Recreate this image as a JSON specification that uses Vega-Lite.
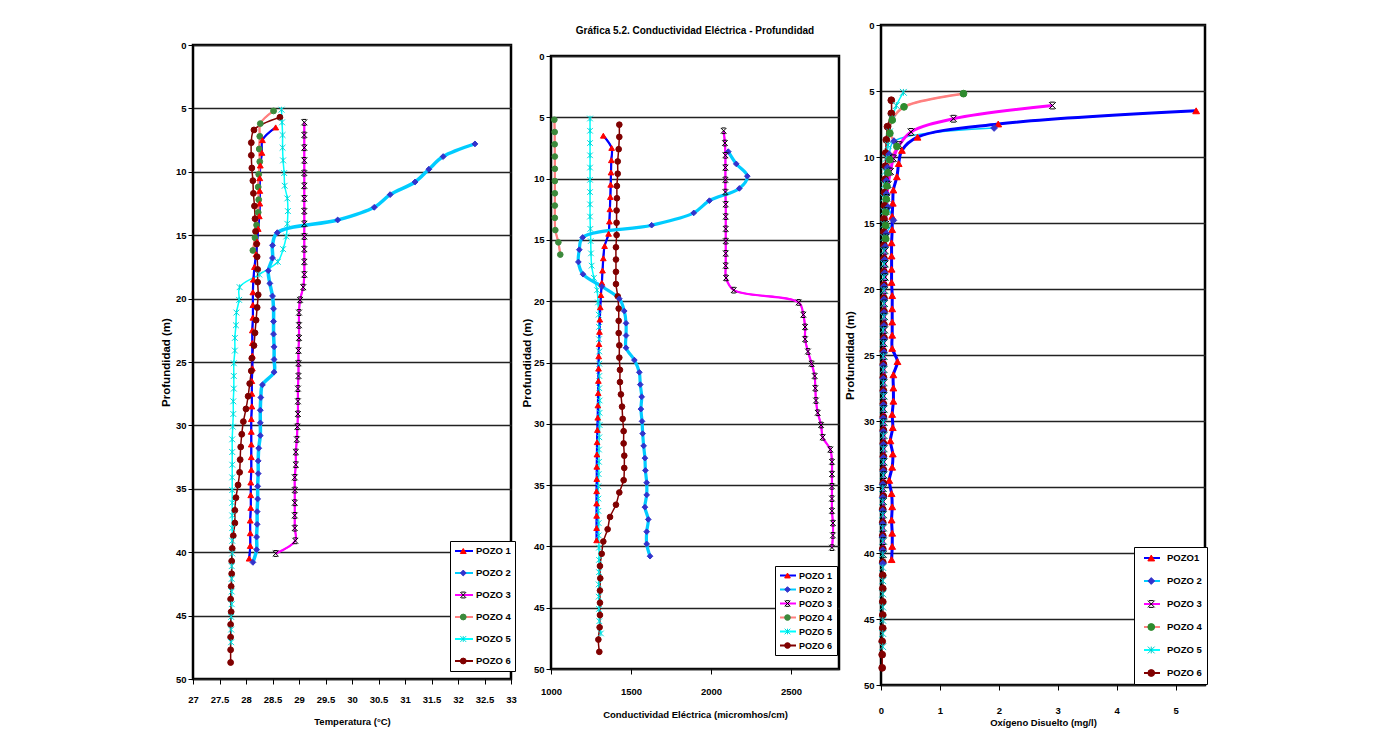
{
"$schema":"https://vega.github.io/schema/vega-lite/v6.json",
"background":"white",
"padding":{"left":159,"top":5,"right":5,"bottom":5},
"spacing":2,
"config":{
 "font":"Liberation Sans, Arial, sans-serif",
 "view":{"stroke":"#000","strokeWidth":2.5},
 "axis":{"labelFont":"Liberation Sans, Arial, sans-serif","labelFontSize":9.5,"labelFontWeight":"bold","labelColor":"#000","titleFont":"Liberation Sans, Arial, sans-serif","titleFontSize":9.5,"titleFontWeight":"bold","titleColor":"#000","tickColor":"#000","tickSize":5,"tickWidth":1,"domain":false,"gridColor":"#222","gridWidth":1.5,"gridOpacity":1,"labelFlush":false,"labelOverlap":false,"labelPadding":2,"format":"~g"},
 "legend":{"labelFont":"Liberation Sans, Arial, sans-serif","labelFontWeight":"bold","labelColor":"#000","cornerRadius":0},
 "title":{"anchor":"middle","frame":"group","color":"#000"}
},
"datasets":{
"temp":[
{"pozo":"POZO 1","prof":6.5,"valor":28.56},{"pozo":"POZO 1","prof":7.5,"valor":28.31},{"pozo":"POZO 1","prof":8.5,"valor":28.30},{"pozo":"POZO 1","prof":9.5,"valor":28.27},{"pozo":"POZO 1","prof":10.5,"valor":28.26},{"pozo":"POZO 1","prof":11.5,"valor":28.26},{"pozo":"POZO 1","prof":12.5,"valor":28.26},{"pozo":"POZO 1","prof":13.5,"valor":28.25},{"pozo":"POZO 1","prof":14.5,"valor":28.23},{"pozo":"POZO 1","prof":15.5,"valor":28.21},{"pozo":"POZO 1","prof":16.5,"valor":28.19},{"pozo":"POZO 1","prof":17.5,"valor":28.16},{"pozo":"POZO 1","prof":18.5,"valor":28.14},{"pozo":"POZO 1","prof":19.5,"valor":28.13},{"pozo":"POZO 1","prof":20.5,"valor":28.13},{"pozo":"POZO 1","prof":21.5,"valor":28.13},{"pozo":"POZO 1","prof":22.5,"valor":28.12},{"pozo":"POZO 1","prof":23.5,"valor":28.12},{"pozo":"POZO 1","prof":24.5,"valor":28.12},{"pozo":"POZO 1","prof":25.5,"valor":28.12},{"pozo":"POZO 1","prof":26.5,"valor":28.11},{"pozo":"POZO 1","prof":27.5,"valor":28.11},{"pozo":"POZO 1","prof":28.5,"valor":28.11},{"pozo":"POZO 1","prof":29.5,"valor":28.10},{"pozo":"POZO 1","prof":30.5,"valor":28.10},{"pozo":"POZO 1","prof":31.5,"valor":28.10},{"pozo":"POZO 1","prof":32.5,"valor":28.10},{"pozo":"POZO 1","prof":33.5,"valor":28.10},{"pozo":"POZO 1","prof":34.5,"valor":28.09},{"pozo":"POZO 1","prof":35.5,"valor":28.09},{"pozo":"POZO 1","prof":36.5,"valor":28.09},{"pozo":"POZO 1","prof":37.5,"valor":28.08},{"pozo":"POZO 1","prof":38.5,"valor":28.08},{"pozo":"POZO 1","prof":39.5,"valor":28.08},{"pozo":"POZO 1","prof":40.5,"valor":28.06},
{"pozo":"POZO 2","prof":7.8,"valor":32.32},{"pozo":"POZO 2","prof":8.8,"valor":31.72},{"pozo":"POZO 2","prof":9.8,"valor":31.45},{"pozo":"POZO 2","prof":10.8,"valor":31.19},{"pozo":"POZO 2","prof":11.8,"valor":30.72},{"pozo":"POZO 2","prof":12.8,"valor":30.42},{"pozo":"POZO 2","prof":13.8,"valor":29.73},{"pozo":"POZO 2","prof":14.8,"valor":28.59},{"pozo":"POZO 2","prof":15.8,"valor":28.50},{"pozo":"POZO 2","prof":16.8,"valor":28.50},{"pozo":"POZO 2","prof":17.8,"valor":28.42},{"pozo":"POZO 2","prof":18.8,"valor":28.45},{"pozo":"POZO 2","prof":19.8,"valor":28.50},{"pozo":"POZO 2","prof":20.8,"valor":28.52},{"pozo":"POZO 2","prof":21.8,"valor":28.52},{"pozo":"POZO 2","prof":22.8,"valor":28.52},{"pozo":"POZO 2","prof":23.8,"valor":28.53},{"pozo":"POZO 2","prof":24.8,"valor":28.53},{"pozo":"POZO 2","prof":25.8,"valor":28.53},{"pozo":"POZO 2","prof":26.8,"valor":28.31},{"pozo":"POZO 2","prof":27.8,"valor":28.28},{"pozo":"POZO 2","prof":28.8,"valor":28.27},{"pozo":"POZO 2","prof":29.8,"valor":28.27},{"pozo":"POZO 2","prof":30.8,"valor":28.27},{"pozo":"POZO 2","prof":31.8,"valor":28.24},{"pozo":"POZO 2","prof":32.8,"valor":28.23},{"pozo":"POZO 2","prof":33.8,"valor":28.23},{"pozo":"POZO 2","prof":34.8,"valor":28.22},{"pozo":"POZO 2","prof":35.8,"valor":28.22},{"pozo":"POZO 2","prof":36.8,"valor":28.21},{"pozo":"POZO 2","prof":37.8,"valor":28.21},{"pozo":"POZO 2","prof":38.8,"valor":28.20},{"pozo":"POZO 2","prof":39.8,"valor":28.20},{"pozo":"POZO 2","prof":40.8,"valor":28.13},
{"pozo":"POZO 3","prof":6.1,"valor":29.10},{"pozo":"POZO 3","prof":7.1,"valor":29.10},{"pozo":"POZO 3","prof":8.1,"valor":29.10},{"pozo":"POZO 3","prof":9.1,"valor":29.10},{"pozo":"POZO 3","prof":10.1,"valor":29.10},{"pozo":"POZO 3","prof":11.1,"valor":29.10},{"pozo":"POZO 3","prof":12.1,"valor":29.10},{"pozo":"POZO 3","prof":13.1,"valor":29.10},{"pozo":"POZO 3","prof":14.1,"valor":29.10},{"pozo":"POZO 3","prof":15.1,"valor":29.10},{"pozo":"POZO 3","prof":16.1,"valor":29.10},{"pozo":"POZO 3","prof":17.1,"valor":29.10},{"pozo":"POZO 3","prof":18.1,"valor":29.10},{"pozo":"POZO 3","prof":19.1,"valor":29.08},{"pozo":"POZO 3","prof":20.1,"valor":29.02},{"pozo":"POZO 3","prof":21.1,"valor":29.00},{"pozo":"POZO 3","prof":22.1,"valor":29.00},{"pozo":"POZO 3","prof":23.1,"valor":29.00},{"pozo":"POZO 3","prof":24.1,"valor":28.99},{"pozo":"POZO 3","prof":25.1,"valor":28.99},{"pozo":"POZO 3","prof":26.1,"valor":28.99},{"pozo":"POZO 3","prof":27.1,"valor":28.98},{"pozo":"POZO 3","prof":28.1,"valor":28.98},{"pozo":"POZO 3","prof":29.1,"valor":28.98},{"pozo":"POZO 3","prof":30.1,"valor":28.97},{"pozo":"POZO 3","prof":31.1,"valor":28.96},{"pozo":"POZO 3","prof":32.1,"valor":28.94},{"pozo":"POZO 3","prof":33.1,"valor":28.94},{"pozo":"POZO 3","prof":34.1,"valor":28.92},{"pozo":"POZO 3","prof":35.1,"valor":28.92},{"pozo":"POZO 3","prof":36.1,"valor":28.92},{"pozo":"POZO 3","prof":37.1,"valor":28.92},{"pozo":"POZO 3","prof":38.1,"valor":28.92},{"pozo":"POZO 3","prof":39.1,"valor":28.93},{"pozo":"POZO 3","prof":40.1,"valor":28.56},
{"pozo":"POZO 4","prof":5.2,"valor":28.52},{"pozo":"POZO 4","prof":6.2,"valor":28.27},{"pozo":"POZO 4","prof":7.2,"valor":28.26},{"pozo":"POZO 4","prof":8.2,"valor":28.25},{"pozo":"POZO 4","prof":9.2,"valor":28.26},{"pozo":"POZO 4","prof":10.2,"valor":28.24},{"pozo":"POZO 4","prof":11.2,"valor":28.23},{"pozo":"POZO 4","prof":12.2,"valor":28.24},{"pozo":"POZO 4","prof":13.2,"valor":28.23},{"pozo":"POZO 4","prof":14.2,"valor":28.20},{"pozo":"POZO 4","prof":15.2,"valor":28.17},{"pozo":"POZO 4","prof":16.2,"valor":28.13},
{"pozo":"POZO 5","prof":5.1,"valor":28.67},{"pozo":"POZO 5","prof":6.1,"valor":28.68},{"pozo":"POZO 5","prof":7.1,"valor":28.69},{"pozo":"POZO 5","prof":8.1,"valor":28.69},{"pozo":"POZO 5","prof":9.1,"valor":28.70},{"pozo":"POZO 5","prof":10.1,"valor":28.72},{"pozo":"POZO 5","prof":11.1,"valor":28.73},{"pozo":"POZO 5","prof":12.1,"valor":28.78},{"pozo":"POZO 5","prof":13.1,"valor":28.79},{"pozo":"POZO 5","prof":14.1,"valor":28.78},{"pozo":"POZO 5","prof":15.1,"valor":28.76},{"pozo":"POZO 5","prof":16.1,"valor":28.70},{"pozo":"POZO 5","prof":17.1,"valor":28.60},{"pozo":"POZO 5","prof":18.1,"valor":28.25},{"pozo":"POZO 5","prof":19.1,"valor":27.88},{"pozo":"POZO 5","prof":20.1,"valor":27.87},{"pozo":"POZO 5","prof":21.1,"valor":27.82},{"pozo":"POZO 5","prof":22.1,"valor":27.81},{"pozo":"POZO 5","prof":23.1,"valor":27.79},{"pozo":"POZO 5","prof":24.1,"valor":27.79},{"pozo":"POZO 5","prof":25.1,"valor":27.77},{"pozo":"POZO 5","prof":26.1,"valor":27.77},{"pozo":"POZO 5","prof":27.1,"valor":27.77},{"pozo":"POZO 5","prof":28.1,"valor":27.76},{"pozo":"POZO 5","prof":29.1,"valor":27.76},{"pozo":"POZO 5","prof":30.1,"valor":27.75},{"pozo":"POZO 5","prof":31.1,"valor":27.74},{"pozo":"POZO 5","prof":32.1,"valor":27.74},{"pozo":"POZO 5","prof":33.1,"valor":27.74},{"pozo":"POZO 5","prof":34.1,"valor":27.74},{"pozo":"POZO 5","prof":35.1,"valor":27.74},{"pozo":"POZO 5","prof":36.1,"valor":27.74},{"pozo":"POZO 5","prof":37.1,"valor":27.74},{"pozo":"POZO 5","prof":38.1,"valor":27.74},{"pozo":"POZO 5","prof":39.1,"valor":27.74},{"pozo":"POZO 5","prof":40.1,"valor":27.74},{"pozo":"POZO 5","prof":41.1,"valor":27.73},{"pozo":"POZO 5","prof":42.1,"valor":27.73},{"pozo":"POZO 5","prof":43.1,"valor":27.73},{"pozo":"POZO 5","prof":44.1,"valor":27.73},{"pozo":"POZO 5","prof":45.1,"valor":27.72},{"pozo":"POZO 5","prof":46.1,"valor":27.72},{"pozo":"POZO 5","prof":47.1,"valor":27.72},
{"pozo":"POZO 6","prof":5.7,"valor":28.64},{"pozo":"POZO 6","prof":6.7,"valor":28.15},{"pozo":"POZO 6","prof":7.7,"valor":28.10},{"pozo":"POZO 6","prof":8.7,"valor":28.10},{"pozo":"POZO 6","prof":9.7,"valor":28.11},{"pozo":"POZO 6","prof":10.7,"valor":28.13},{"pozo":"POZO 6","prof":11.7,"valor":28.14},{"pozo":"POZO 6","prof":12.7,"valor":28.16},{"pozo":"POZO 6","prof":13.7,"valor":28.17},{"pozo":"POZO 6","prof":14.7,"valor":28.18},{"pozo":"POZO 6","prof":15.7,"valor":28.20},{"pozo":"POZO 6","prof":16.7,"valor":28.21},{"pozo":"POZO 6","prof":17.7,"valor":28.22},{"pozo":"POZO 6","prof":18.7,"valor":28.22},{"pozo":"POZO 6","prof":19.7,"valor":28.23},{"pozo":"POZO 6","prof":20.7,"valor":28.21},{"pozo":"POZO 6","prof":21.7,"valor":28.19},{"pozo":"POZO 6","prof":22.7,"valor":28.17},{"pozo":"POZO 6","prof":23.7,"valor":28.15},{"pozo":"POZO 6","prof":24.7,"valor":28.11},{"pozo":"POZO 6","prof":25.7,"valor":28.10},{"pozo":"POZO 6","prof":26.7,"valor":28.07},{"pozo":"POZO 6","prof":27.7,"valor":28.04},{"pozo":"POZO 6","prof":28.7,"valor":28.00},{"pozo":"POZO 6","prof":29.7,"valor":27.95},{"pozo":"POZO 6","prof":30.7,"valor":27.92},{"pozo":"POZO 6","prof":31.7,"valor":27.90},{"pozo":"POZO 6","prof":32.7,"valor":27.89},{"pozo":"POZO 6","prof":33.7,"valor":27.88},{"pozo":"POZO 6","prof":34.7,"valor":27.85},{"pozo":"POZO 6","prof":35.7,"valor":27.81},{"pozo":"POZO 6","prof":36.7,"valor":27.79},{"pozo":"POZO 6","prof":37.7,"valor":27.79},{"pozo":"POZO 6","prof":38.7,"valor":27.76},{"pozo":"POZO 6","prof":39.7,"valor":27.74},{"pozo":"POZO 6","prof":40.7,"valor":27.73},{"pozo":"POZO 6","prof":41.7,"valor":27.73},{"pozo":"POZO 6","prof":42.7,"valor":27.72},{"pozo":"POZO 6","prof":43.7,"valor":27.71},{"pozo":"POZO 6","prof":44.7,"valor":27.72},{"pozo":"POZO 6","prof":45.7,"valor":27.71},{"pozo":"POZO 6","prof":46.7,"valor":27.71},{"pozo":"POZO 6","prof":47.7,"valor":27.71},{"pozo":"POZO 6","prof":48.7,"valor":27.71}
],
"cond":[
{"pozo":"POZO 1","prof":6.5,"valor":1327},{"pozo":"POZO 1","prof":7.5,"valor":1379},{"pozo":"POZO 1","prof":8.5,"valor":1377},{"pozo":"POZO 1","prof":9.5,"valor":1375},{"pozo":"POZO 1","prof":10.5,"valor":1373},{"pozo":"POZO 1","prof":11.5,"valor":1371},{"pozo":"POZO 1","prof":12.5,"valor":1368},{"pozo":"POZO 1","prof":13.5,"valor":1365},{"pozo":"POZO 1","prof":14.5,"valor":1360},{"pozo":"POZO 1","prof":15.5,"valor":1335},{"pozo":"POZO 1","prof":16.5,"valor":1327},{"pozo":"POZO 1","prof":17.5,"valor":1322},{"pozo":"POZO 1","prof":18.5,"valor":1318},{"pozo":"POZO 1","prof":19.5,"valor":1312},{"pozo":"POZO 1","prof":20.5,"valor":1308},{"pozo":"POZO 1","prof":21.5,"valor":1305},{"pozo":"POZO 1","prof":22.5,"valor":1303},{"pozo":"POZO 1","prof":23.5,"valor":1300},{"pozo":"POZO 1","prof":24.5,"valor":1298},{"pozo":"POZO 1","prof":25.5,"valor":1297},{"pozo":"POZO 1","prof":26.5,"valor":1296},{"pozo":"POZO 1","prof":27.5,"valor":1295},{"pozo":"POZO 1","prof":28.5,"valor":1293},{"pozo":"POZO 1","prof":29.5,"valor":1292},{"pozo":"POZO 1","prof":30.5,"valor":1290},{"pozo":"POZO 1","prof":31.5,"valor":1288},{"pozo":"POZO 1","prof":32.5,"valor":1287},{"pozo":"POZO 1","prof":33.5,"valor":1286},{"pozo":"POZO 1","prof":34.5,"valor":1286},{"pozo":"POZO 1","prof":35.5,"valor":1285},{"pozo":"POZO 1","prof":36.5,"valor":1285},{"pozo":"POZO 1","prof":37.5,"valor":1285},{"pozo":"POZO 1","prof":38.5,"valor":1285},{"pozo":"POZO 1","prof":39.5,"valor":1285},
{"pozo":"POZO 2","prof":7.8,"valor":2108},{"pozo":"POZO 2","prof":8.8,"valor":2158},{"pozo":"POZO 2","prof":9.8,"valor":2227},{"pozo":"POZO 2","prof":10.8,"valor":2177},{"pozo":"POZO 2","prof":11.8,"valor":1990},{"pozo":"POZO 2","prof":12.8,"valor":1892},{"pozo":"POZO 2","prof":13.8,"valor":1629},{"pozo":"POZO 2","prof":14.8,"valor":1198},{"pozo":"POZO 2","prof":15.8,"valor":1177},{"pozo":"POZO 2","prof":16.8,"valor":1171},{"pozo":"POZO 2","prof":17.8,"valor":1200},{"pozo":"POZO 2","prof":18.8,"valor":1318},{"pozo":"POZO 2","prof":19.8,"valor":1427},{"pozo":"POZO 2","prof":20.8,"valor":1458},{"pozo":"POZO 2","prof":21.8,"valor":1469},{"pozo":"POZO 2","prof":22.8,"valor":1469},{"pozo":"POZO 2","prof":23.8,"valor":1469},{"pozo":"POZO 2","prof":24.8,"valor":1521},{"pozo":"POZO 2","prof":25.8,"valor":1552},{"pozo":"POZO 2","prof":26.8,"valor":1558},{"pozo":"POZO 2","prof":27.8,"valor":1567},{"pozo":"POZO 2","prof":28.8,"valor":1562},{"pozo":"POZO 2","prof":29.8,"valor":1569},{"pozo":"POZO 2","prof":30.8,"valor":1573},{"pozo":"POZO 2","prof":31.8,"valor":1579},{"pozo":"POZO 2","prof":32.8,"valor":1587},{"pozo":"POZO 2","prof":33.8,"valor":1590},{"pozo":"POZO 2","prof":34.8,"valor":1598},{"pozo":"POZO 2","prof":35.8,"valor":1598},{"pozo":"POZO 2","prof":36.8,"valor":1587},{"pozo":"POZO 2","prof":37.8,"valor":1608},{"pozo":"POZO 2","prof":38.8,"valor":1598},{"pozo":"POZO 2","prof":39.8,"valor":1598},{"pozo":"POZO 2","prof":40.8,"valor":1619},
{"pozo":"POZO 3","prof":6.1,"valor":2079},{"pozo":"POZO 3","prof":7.1,"valor":2087},{"pozo":"POZO 3","prof":8.1,"valor":2090},{"pozo":"POZO 3","prof":9.1,"valor":2090},{"pozo":"POZO 3","prof":10.1,"valor":2090},{"pozo":"POZO 3","prof":11.1,"valor":2090},{"pozo":"POZO 3","prof":12.1,"valor":2092},{"pozo":"POZO 3","prof":13.1,"valor":2092},{"pozo":"POZO 3","prof":14.1,"valor":2092},{"pozo":"POZO 3","prof":15.1,"valor":2092},{"pozo":"POZO 3","prof":16.1,"valor":2092},{"pozo":"POZO 3","prof":17.1,"valor":2092},{"pozo":"POZO 3","prof":18.1,"valor":2094},{"pozo":"POZO 3","prof":19.1,"valor":2142},{"pozo":"POZO 3","prof":20.1,"valor":2548},{"pozo":"POZO 3","prof":21.1,"valor":2577},{"pozo":"POZO 3","prof":22.1,"valor":2588},{"pozo":"POZO 3","prof":23.1,"valor":2588},{"pozo":"POZO 3","prof":24.1,"valor":2606},{"pozo":"POZO 3","prof":25.1,"valor":2629},{"pozo":"POZO 3","prof":26.1,"valor":2648},{"pozo":"POZO 3","prof":27.1,"valor":2652},{"pozo":"POZO 3","prof":28.1,"valor":2656},{"pozo":"POZO 3","prof":29.1,"valor":2667},{"pozo":"POZO 3","prof":30.1,"valor":2688},{"pozo":"POZO 3","prof":31.1,"valor":2698},{"pozo":"POZO 3","prof":32.1,"valor":2746},{"pozo":"POZO 3","prof":33.1,"valor":2756},{"pozo":"POZO 3","prof":34.1,"valor":2756},{"pozo":"POZO 3","prof":35.1,"valor":2756},{"pozo":"POZO 3","prof":36.1,"valor":2756},{"pozo":"POZO 3","prof":37.1,"valor":2756},{"pozo":"POZO 3","prof":38.1,"valor":2762},{"pozo":"POZO 3","prof":39.1,"valor":2762},{"pozo":"POZO 3","prof":40.1,"valor":2756},
{"pozo":"POZO 4","prof":5.2,"valor":1021},{"pozo":"POZO 4","prof":6.2,"valor":1023},{"pozo":"POZO 4","prof":7.2,"valor":1023},{"pozo":"POZO 4","prof":8.2,"valor":1024},{"pozo":"POZO 4","prof":9.2,"valor":1024},{"pozo":"POZO 4","prof":10.2,"valor":1024},{"pozo":"POZO 4","prof":11.2,"valor":1024},{"pozo":"POZO 4","prof":12.2,"valor":1024},{"pozo":"POZO 4","prof":13.2,"valor":1024},{"pozo":"POZO 4","prof":14.2,"valor":1027},{"pozo":"POZO 4","prof":15.2,"valor":1046},{"pozo":"POZO 4","prof":16.2,"valor":1058},
{"pozo":"POZO 5","prof":5.1,"valor":1244},{"pozo":"POZO 5","prof":6.1,"valor":1244},{"pozo":"POZO 5","prof":7.1,"valor":1244},{"pozo":"POZO 5","prof":8.1,"valor":1244},{"pozo":"POZO 5","prof":9.1,"valor":1244},{"pozo":"POZO 5","prof":10.1,"valor":1244},{"pozo":"POZO 5","prof":11.1,"valor":1244},{"pozo":"POZO 5","prof":12.1,"valor":1244},{"pozo":"POZO 5","prof":13.1,"valor":1244},{"pozo":"POZO 5","prof":14.1,"valor":1246},{"pozo":"POZO 5","prof":15.1,"valor":1248},{"pozo":"POZO 5","prof":16.1,"valor":1250},{"pozo":"POZO 5","prof":17.1,"valor":1254},{"pozo":"POZO 5","prof":18.1,"valor":1268},{"pozo":"POZO 5","prof":19.1,"valor":1288},{"pozo":"POZO 5","prof":20.1,"valor":1294},{"pozo":"POZO 5","prof":21.1,"valor":1298},{"pozo":"POZO 5","prof":22.1,"valor":1300},{"pozo":"POZO 5","prof":23.1,"valor":1300},{"pozo":"POZO 5","prof":24.1,"valor":1302},{"pozo":"POZO 5","prof":25.1,"valor":1302},{"pozo":"POZO 5","prof":26.1,"valor":1302},{"pozo":"POZO 5","prof":27.1,"valor":1302},{"pozo":"POZO 5","prof":28.1,"valor":1304},{"pozo":"POZO 5","prof":29.1,"valor":1304},{"pozo":"POZO 5","prof":30.1,"valor":1304},{"pozo":"POZO 5","prof":31.1,"valor":1302},{"pozo":"POZO 5","prof":32.1,"valor":1300},{"pozo":"POZO 5","prof":33.1,"valor":1300},{"pozo":"POZO 5","prof":34.1,"valor":1298},{"pozo":"POZO 5","prof":35.1,"valor":1296},{"pozo":"POZO 5","prof":36.1,"valor":1296},{"pozo":"POZO 5","prof":37.1,"valor":1296},{"pozo":"POZO 5","prof":38.1,"valor":1298},{"pozo":"POZO 5","prof":39.1,"valor":1298},{"pozo":"POZO 5","prof":40.1,"valor":1300},{"pozo":"POZO 5","prof":41.1,"valor":1300},{"pozo":"POZO 5","prof":42.1,"valor":1300},{"pozo":"POZO 5","prof":43.1,"valor":1298},{"pozo":"POZO 5","prof":44.1,"valor":1298},{"pozo":"POZO 5","prof":45.1,"valor":1300},{"pozo":"POZO 5","prof":46.1,"valor":1302},{"pozo":"POZO 5","prof":47.1,"valor":1312},
{"pozo":"POZO 6","prof":5.6,"valor":1427},{"pozo":"POZO 6","prof":6.6,"valor":1427},{"pozo":"POZO 6","prof":7.6,"valor":1423},{"pozo":"POZO 6","prof":8.6,"valor":1417},{"pozo":"POZO 6","prof":9.6,"valor":1417},{"pozo":"POZO 6","prof":10.6,"valor":1412},{"pozo":"POZO 6","prof":11.6,"valor":1412},{"pozo":"POZO 6","prof":12.6,"valor":1410},{"pozo":"POZO 6","prof":13.6,"valor":1410},{"pozo":"POZO 6","prof":14.6,"valor":1410},{"pozo":"POZO 6","prof":15.6,"valor":1406},{"pozo":"POZO 6","prof":16.6,"valor":1406},{"pozo":"POZO 6","prof":17.6,"valor":1406},{"pozo":"POZO 6","prof":18.6,"valor":1406},{"pozo":"POZO 6","prof":19.6,"valor":1417},{"pozo":"POZO 6","prof":20.6,"valor":1423},{"pozo":"POZO 6","prof":21.6,"valor":1423},{"pozo":"POZO 6","prof":22.6,"valor":1423},{"pozo":"POZO 6","prof":23.6,"valor":1427},{"pozo":"POZO 6","prof":24.6,"valor":1427},{"pozo":"POZO 6","prof":25.6,"valor":1431},{"pozo":"POZO 6","prof":26.6,"valor":1431},{"pozo":"POZO 6","prof":27.6,"valor":1437},{"pozo":"POZO 6","prof":28.6,"valor":1444},{"pozo":"POZO 6","prof":29.6,"valor":1448},{"pozo":"POZO 6","prof":30.6,"valor":1454},{"pozo":"POZO 6","prof":31.6,"valor":1454},{"pozo":"POZO 6","prof":32.6,"valor":1458},{"pozo":"POZO 6","prof":33.6,"valor":1458},{"pozo":"POZO 6","prof":34.6,"valor":1454},{"pozo":"POZO 6","prof":35.6,"valor":1427},{"pozo":"POZO 6","prof":36.6,"valor":1406},{"pozo":"POZO 6","prof":37.6,"valor":1369},{"pozo":"POZO 6","prof":38.6,"valor":1354},{"pozo":"POZO 6","prof":39.6,"valor":1327},{"pozo":"POZO 6","prof":40.6,"valor":1317},{"pozo":"POZO 6","prof":41.6,"valor":1306},{"pozo":"POZO 6","prof":42.6,"valor":1308},{"pozo":"POZO 6","prof":43.6,"valor":1306},{"pozo":"POZO 6","prof":44.6,"valor":1306},{"pozo":"POZO 6","prof":45.6,"valor":1306},{"pozo":"POZO 6","prof":46.6,"valor":1304},{"pozo":"POZO 6","prof":47.6,"valor":1296},{"pozo":"POZO 6","prof":48.6,"valor":1302}
],
"oxy":[
{"pozo":"POZO 1","prof":6.5,"valor":5.35},{"pozo":"POZO 1","prof":7.5,"valor":1.99},{"pozo":"POZO 1","prof":8.5,"valor":0.62},{"pozo":"POZO 1","prof":9.5,"valor":0.355},{"pozo":"POZO 1","prof":10.5,"valor":0.30},{"pozo":"POZO 1","prof":11.5,"valor":0.27},{"pozo":"POZO 1","prof":12.5,"valor":0.21},{"pozo":"POZO 1","prof":13.5,"valor":0.20},{"pozo":"POZO 1","prof":14.5,"valor":0.19},{"pozo":"POZO 1","prof":15.5,"valor":0.19},{"pozo":"POZO 1","prof":16.5,"valor":0.18},{"pozo":"POZO 1","prof":17.5,"valor":0.18},{"pozo":"POZO 1","prof":18.5,"valor":0.18},{"pozo":"POZO 1","prof":19.5,"valor":0.18},{"pozo":"POZO 1","prof":20.5,"valor":0.19},{"pozo":"POZO 1","prof":21.5,"valor":0.19},{"pozo":"POZO 1","prof":22.5,"valor":0.19},{"pozo":"POZO 1","prof":23.5,"valor":0.19},{"pozo":"POZO 1","prof":24.5,"valor":0.19},{"pozo":"POZO 1","prof":25.5,"valor":0.28},{"pozo":"POZO 1","prof":26.5,"valor":0.21},{"pozo":"POZO 1","prof":27.5,"valor":0.21},{"pozo":"POZO 1","prof":28.5,"valor":0.21},{"pozo":"POZO 1","prof":29.5,"valor":0.19},{"pozo":"POZO 1","prof":30.5,"valor":0.20},{"pozo":"POZO 1","prof":31.5,"valor":0.16},{"pozo":"POZO 1","prof":32.5,"valor":0.20},{"pozo":"POZO 1","prof":33.5,"valor":0.19},{"pozo":"POZO 1","prof":34.5,"valor":0.14},{"pozo":"POZO 1","prof":35.5,"valor":0.18},{"pozo":"POZO 1","prof":36.5,"valor":0.19},{"pozo":"POZO 1","prof":37.5,"valor":0.18},{"pozo":"POZO 1","prof":38.5,"valor":0.19},{"pozo":"POZO 1","prof":39.5,"valor":0.19},{"pozo":"POZO 1","prof":40.5,"valor":0.18},
{"pozo":"POZO 2","prof":7.8,"valor":1.92},{"pozo":"POZO 2","prof":8.8,"valor":0.22},{"pozo":"POZO 2","prof":9.8,"valor":0.14},{"pozo":"POZO 2","prof":10.8,"valor":0.11},{"pozo":"POZO 2","prof":11.8,"valor":0.09},{"pozo":"POZO 2","prof":12.8,"valor":0.09},{"pozo":"POZO 2","prof":13.8,"valor":0.12},{"pozo":"POZO 2","prof":14.8,"valor":0.21},{"pozo":"POZO 2","prof":15.8,"valor":0.09},{"pozo":"POZO 2","prof":16.8,"valor":0.07},{"pozo":"POZO 2","prof":17.8,"valor":0.06},{"pozo":"POZO 2","prof":18.8,"valor":0.06},{"pozo":"POZO 2","prof":19.8,"valor":0.05},{"pozo":"POZO 2","prof":20.8,"valor":0.05},{"pozo":"POZO 2","prof":21.8,"valor":0.05},{"pozo":"POZO 2","prof":22.8,"valor":0.05},{"pozo":"POZO 2","prof":23.8,"valor":0.05},{"pozo":"POZO 2","prof":24.8,"valor":0.05},{"pozo":"POZO 2","prof":25.8,"valor":0.04},{"pozo":"POZO 2","prof":26.8,"valor":0.04},{"pozo":"POZO 2","prof":27.8,"valor":0.04},{"pozo":"POZO 2","prof":28.8,"valor":0.04},{"pozo":"POZO 2","prof":29.8,"valor":0.04},{"pozo":"POZO 2","prof":30.8,"valor":0.04},{"pozo":"POZO 2","prof":31.8,"valor":0.04},{"pozo":"POZO 2","prof":32.8,"valor":0.04},{"pozo":"POZO 2","prof":33.8,"valor":0.04},{"pozo":"POZO 2","prof":34.8,"valor":0.03},{"pozo":"POZO 2","prof":35.8,"valor":0.03},{"pozo":"POZO 2","prof":36.8,"valor":0.03},{"pozo":"POZO 2","prof":37.8,"valor":0.03},{"pozo":"POZO 2","prof":38.8,"valor":0.03},{"pozo":"POZO 2","prof":39.8,"valor":0.03},{"pozo":"POZO 2","prof":40.8,"valor":0.03},
{"pozo":"POZO 3","prof":6.1,"valor":2.91},{"pozo":"POZO 3","prof":7.1,"valor":1.23},{"pozo":"POZO 3","prof":8.1,"valor":0.51},{"pozo":"POZO 3","prof":9.1,"valor":0.31},{"pozo":"POZO 3","prof":10.1,"valor":0.21},{"pozo":"POZO 3","prof":11.1,"valor":0.16},{"pozo":"POZO 3","prof":12.1,"valor":0.12},{"pozo":"POZO 3","prof":13.1,"valor":0.10},{"pozo":"POZO 3","prof":14.1,"valor":0.09},{"pozo":"POZO 3","prof":15.1,"valor":0.08},{"pozo":"POZO 3","prof":16.1,"valor":0.08},{"pozo":"POZO 3","prof":17.1,"valor":0.07},{"pozo":"POZO 3","prof":18.1,"valor":0.07},{"pozo":"POZO 3","prof":19.1,"valor":0.07},{"pozo":"POZO 3","prof":20.1,"valor":0.06},{"pozo":"POZO 3","prof":21.1,"valor":0.06},{"pozo":"POZO 3","prof":22.1,"valor":0.06},{"pozo":"POZO 3","prof":23.1,"valor":0.06},{"pozo":"POZO 3","prof":24.1,"valor":0.05},{"pozo":"POZO 3","prof":25.1,"valor":0.05},{"pozo":"POZO 3","prof":26.1,"valor":0.05},{"pozo":"POZO 3","prof":27.1,"valor":0.05},{"pozo":"POZO 3","prof":28.1,"valor":0.05},{"pozo":"POZO 3","prof":29.1,"valor":0.05},{"pozo":"POZO 3","prof":30.1,"valor":0.05},{"pozo":"POZO 3","prof":31.1,"valor":0.05},{"pozo":"POZO 3","prof":32.1,"valor":0.05},{"pozo":"POZO 3","prof":33.1,"valor":0.05},{"pozo":"POZO 3","prof":34.1,"valor":0.05},{"pozo":"POZO 3","prof":35.1,"valor":0.04},{"pozo":"POZO 3","prof":36.1,"valor":0.04},{"pozo":"POZO 3","prof":37.1,"valor":0.04},{"pozo":"POZO 3","prof":38.1,"valor":0.04},{"pozo":"POZO 3","prof":39.1,"valor":0.04},{"pozo":"POZO 3","prof":40.1,"valor":0.04},
{"pozo":"POZO 4","prof":5.2,"valor":1.40},{"pozo":"POZO 4","prof":6.2,"valor":0.39},{"pozo":"POZO 4","prof":7.2,"valor":0.19},{"pozo":"POZO 4","prof":8.2,"valor":0.15},{"pozo":"POZO 4","prof":9.2,"valor":0.27},{"pozo":"POZO 4","prof":10.2,"valor":0.15},{"pozo":"POZO 4","prof":11.2,"valor":0.12},{"pozo":"POZO 4","prof":12.2,"valor":0.10},{"pozo":"POZO 4","prof":13.2,"valor":0.09},{"pozo":"POZO 4","prof":14.2,"valor":0.08},{"pozo":"POZO 4","prof":15.2,"valor":0.08},{"pozo":"POZO 4","prof":16.2,"valor":0.08},
{"pozo":"POZO 5","prof":5.1,"valor":0.38},{"pozo":"POZO 5","prof":6.1,"valor":0.26},{"pozo":"POZO 5","prof":7.1,"valor":0.19},{"pozo":"POZO 5","prof":8.1,"valor":0.145},{"pozo":"POZO 5","prof":9.1,"valor":0.12},{"pozo":"POZO 5","prof":10.1,"valor":0.09},{"pozo":"POZO 5","prof":11.1,"valor":0.07},{"pozo":"POZO 5","prof":12.1,"valor":0.06},{"pozo":"POZO 5","prof":13.1,"valor":0.05},{"pozo":"POZO 5","prof":14.1,"valor":0.05},{"pozo":"POZO 5","prof":15.1,"valor":0.05},{"pozo":"POZO 5","prof":16.1,"valor":0.05},{"pozo":"POZO 5","prof":17.1,"valor":0.05},{"pozo":"POZO 5","prof":18.1,"valor":0.05},{"pozo":"POZO 5","prof":19.1,"valor":0.05},{"pozo":"POZO 5","prof":20.1,"valor":0.05},{"pozo":"POZO 5","prof":21.1,"valor":0.05},{"pozo":"POZO 5","prof":22.1,"valor":0.05},{"pozo":"POZO 5","prof":23.1,"valor":0.04},{"pozo":"POZO 5","prof":24.1,"valor":0.04},{"pozo":"POZO 5","prof":25.1,"valor":0.04},{"pozo":"POZO 5","prof":26.1,"valor":0.04},{"pozo":"POZO 5","prof":27.1,"valor":0.04},{"pozo":"POZO 5","prof":28.1,"valor":0.04},{"pozo":"POZO 5","prof":29.1,"valor":0.04},{"pozo":"POZO 5","prof":30.1,"valor":0.04},{"pozo":"POZO 5","prof":31.1,"valor":0.04},{"pozo":"POZO 5","prof":32.1,"valor":0.04},{"pozo":"POZO 5","prof":33.1,"valor":0.04},{"pozo":"POZO 5","prof":34.1,"valor":0.04},{"pozo":"POZO 5","prof":35.1,"valor":0.03},{"pozo":"POZO 5","prof":36.1,"valor":0.03},{"pozo":"POZO 5","prof":37.1,"valor":0.03},{"pozo":"POZO 5","prof":38.1,"valor":0.03},{"pozo":"POZO 5","prof":39.1,"valor":0.03},{"pozo":"POZO 5","prof":40.1,"valor":0.03},{"pozo":"POZO 5","prof":41.1,"valor":0.03},{"pozo":"POZO 5","prof":42.1,"valor":0.03},{"pozo":"POZO 5","prof":43.1,"valor":0.03},{"pozo":"POZO 5","prof":44.1,"valor":0.03},{"pozo":"POZO 5","prof":45.1,"valor":0.03},{"pozo":"POZO 5","prof":46.1,"valor":0.03},{"pozo":"POZO 5","prof":47.1,"valor":0.03},
{"pozo":"POZO 6","prof":5.7,"valor":0.175},{"pozo":"POZO 6","prof":6.7,"valor":0.175},{"pozo":"POZO 6","prof":7.7,"valor":0.11},{"pozo":"POZO 6","prof":8.7,"valor":0.09},{"pozo":"POZO 6","prof":9.7,"valor":0.08},{"pozo":"POZO 6","prof":10.7,"valor":0.075},{"pozo":"POZO 6","prof":11.7,"valor":0.07},{"pozo":"POZO 6","prof":12.7,"valor":0.06},{"pozo":"POZO 6","prof":13.7,"valor":0.06},{"pozo":"POZO 6","prof":14.7,"valor":0.05},{"pozo":"POZO 6","prof":15.7,"valor":0.05},{"pozo":"POZO 6","prof":16.7,"valor":0.05},{"pozo":"POZO 6","prof":17.7,"valor":0.05},{"pozo":"POZO 6","prof":18.7,"valor":0.05},{"pozo":"POZO 6","prof":19.7,"valor":0.05},{"pozo":"POZO 6","prof":20.7,"valor":0.05},{"pozo":"POZO 6","prof":21.7,"valor":0.05},{"pozo":"POZO 6","prof":22.7,"valor":0.05},{"pozo":"POZO 6","prof":23.7,"valor":0.05},{"pozo":"POZO 6","prof":24.7,"valor":0.04},{"pozo":"POZO 6","prof":25.7,"valor":0.04},{"pozo":"POZO 6","prof":26.7,"valor":0.04},{"pozo":"POZO 6","prof":27.7,"valor":0.04},{"pozo":"POZO 6","prof":28.7,"valor":0.04},{"pozo":"POZO 6","prof":29.7,"valor":0.04},{"pozo":"POZO 6","prof":30.7,"valor":0.04},{"pozo":"POZO 6","prof":31.7,"valor":0.04},{"pozo":"POZO 6","prof":32.7,"valor":0.04},{"pozo":"POZO 6","prof":33.7,"valor":0.04},{"pozo":"POZO 6","prof":34.7,"valor":0.04},{"pozo":"POZO 6","prof":35.7,"valor":0.04},{"pozo":"POZO 6","prof":36.7,"valor":0.03},{"pozo":"POZO 6","prof":37.7,"valor":0.03},{"pozo":"POZO 6","prof":38.7,"valor":0.03},{"pozo":"POZO 6","prof":39.7,"valor":0.03},{"pozo":"POZO 6","prof":40.7,"valor":0.03},{"pozo":"POZO 6","prof":41.7,"valor":0.03},{"pozo":"POZO 6","prof":42.7,"valor":0.03},{"pozo":"POZO 6","prof":43.7,"valor":0.03},{"pozo":"POZO 6","prof":44.7,"valor":0.03},{"pozo":"POZO 6","prof":45.7,"valor":0.03},{"pozo":"POZO 6","prof":46.7,"valor":0.02},{"pozo":"POZO 6","prof":47.7,"valor":0.02},{"pozo":"POZO 6","prof":48.7,"valor":0.02}
]
},
"hconcat":[
{"spacing":0,"vconcat":[
{"width":10,"height":33,"data":{"values":[]},"mark":"point","view":{"stroke":null,"fill":"white"}},
{
 "width":318,"height":634,
 "data":{"name":"temp"},
 "encoding":{
  "y":{"field":"prof","type":"quantitative","scale":{"domain":[0,50],"reverse":true,"nice":false,"zero":false},"axis":{"values":[0,5,10,15,20,25,30,35,40,45,50],"grid":true,"title":"Profundidad (m)","titleFontSize":11.5,"titlePadding":4}},
  "x":{"field":"valor","type":"quantitative","scale":{"domain":[27,33],"nice":false,"zero":false},"axis":{"values":[27,27.5,28,28.5,29,29.5,30,30.5,31,31.5,32,32.5,33],"grid":false,"title":"Temperatura (°C)","labelPadding":10,"titlePadding":13}},
  "order":{"field":"prof","type":"quantitative"}
 },
 "layer":[
  {"mark":{"type":"line","strokeWidth":1.5,"interpolate":"catmull-rom"},"encoding":{"color":{"field":"pozo","type":"nominal","scale":{"range":["#0000FF","#00CCFF","#FF00FF","#FF8080","#00FFFF","#800000"]},"legend":{"orient":"none","legendX":257,"legendY":496,"title":null,"symbolType":"stroke","symbolSize":324,"symbolStrokeWidth":2,"clipHeight":12,"rowPadding":10,"padding":4,"labelOffset":2,"labelFontSize":9.5,"strokeColor":"#000","fillColor":"#fff"}}}},
  {"transform":[{"filter":{"field":"pozo","oneOf":["POZO 1","POZO 3","POZO 4"]}}],"mark":{"type":"line","strokeWidth":2.2,"interpolate":"catmull-rom"},"encoding":{"color":{"field":"pozo","type":"nominal"}}},
  {"transform":[{"filter":{"field":"pozo","oneOf":["POZO 2"]}}],"mark":{"type":"line","strokeWidth":3.5,"interpolate":"catmull-rom"},"encoding":{"color":{"field":"pozo","type":"nominal"}}},
  {"mark":{"type":"point","size":34,"strokeWidth":1,"opacity":1},"encoding":{
   "fill":{"field":"pozo","type":"nominal","scale":{"domain":["POZO 1","POZO 2","POZO 3","POZO 4","POZO 5","POZO 6"],"range":["#FF0000","#3333CC","transparent","#3C8A3C","transparent","#800000"]},"legend":{"orient":"none","legendX":257,"legendY":496,"title":null,"symbolSize":34,"symbolStrokeWidth":1,"clipHeight":12,"rowPadding":10,"padding":4,"labelExpr":"''","symbolOffset":4.5,"labelFontSize":9.5}},
   "stroke":{"field":"pozo","type":"nominal","scale":{"domain":["POZO 1","POZO 2","POZO 3","POZO 4","POZO 5","POZO 6"],"range":["#FF0000","#3333CC","#000000","#3C8A3C","#00DDDD","#800000"]},"legend":{"orient":"none","legendX":257,"legendY":496,"title":null,"symbolSize":34,"symbolStrokeWidth":1,"clipHeight":12,"rowPadding":10,"padding":4,"labelExpr":"''","symbolOffset":4.5,"labelFontSize":9.5}},
   "shape":{"field":"pozo","type":"nominal","scale":{"domain":["POZO 1","POZO 2","POZO 3","POZO 4","POZO 5","POZO 6"],"range":["triangle-up","diamond","M-1,-1L1,1M1,-1L-1,1M-0.7,-1H0.7M-0.7,1H0.7","circle","M-1,-1L1,1M1,-1L-1,1M0,-1V1","circle"]},"legend":{"orient":"none","legendX":257,"legendY":496,"title":null,"symbolSize":34,"symbolStrokeWidth":1,"clipHeight":12,"rowPadding":10,"padding":4,"labelExpr":"''","symbolOffset":4.5,"labelFontSize":9.5}}
  }}
 ]
}],
"resolve":{"scale":{"color":"independent","fill":"independent","stroke":"independent","shape":"independent","x":"independent","y":"independent"},"legend":{"color":"independent","fill":"independent","stroke":"independent","shape":"independent"}}
},
{"spacing":0,"vconcat":[
{"width":10,"height":19,"data":{"values":[]},"mark":"point","view":{"stroke":null,"fill":"white"}},
{
 "width":288,"height":613,
 "title":{"text":"Gráfica 5.2.  Conductividad Eléctrica - Profundidad","fontSize":10,"fontWeight":"bold","offset":15},
 "data":{"name":"cond"},
 "encoding":{
  "y":{"field":"prof","type":"quantitative","scale":{"domain":[0,50],"reverse":true,"nice":false,"zero":false},"axis":{"values":[0,5,10,15,20,25,30,35,40,45,50],"grid":true,"title":"Profundidad (m)","titleFontSize":11.5,"titlePadding":1}},
  "x":{"field":"valor","type":"quantitative","scale":{"domain":[1000,2800],"nice":false,"zero":false},"axis":{"values":[1000,1500,2000,2500],"format":"d","grid":false,"title":"Conductividad Eléctrica (micromhos/cm)","labelPadding":12,"titlePadding":14}},
  "order":{"field":"prof","type":"quantitative"}
 },
 "layer":[
  {"mark":{"type":"line","strokeWidth":1.5,"interpolate":"catmull-rom"},"encoding":{"color":{"field":"pozo","type":"nominal","scale":{"range":["#0000FF","#00CCFF","#FF00FF","#FF8080","#00FFFF","#800000"]},"legend":{"orient":"none","legendX":224,"legendY":510,"title":null,"symbolType":"stroke","symbolSize":256,"symbolStrokeWidth":2,"clipHeight":11,"rowPadding":3,"padding":4,"labelOffset":2,"labelFontSize":9,"strokeColor":"#000","fillColor":"#fff"}}}},
  {"transform":[{"filter":{"field":"pozo","oneOf":["POZO 1","POZO 3","POZO 4"]}}],"mark":{"type":"line","strokeWidth":2.2,"interpolate":"catmull-rom"},"encoding":{"color":{"field":"pozo","type":"nominal"}}},
  {"transform":[{"filter":{"field":"pozo","oneOf":["POZO 2"]}}],"mark":{"type":"line","strokeWidth":3.2,"interpolate":"catmull-rom"},"encoding":{"color":{"field":"pozo","type":"nominal"}}},
  {"mark":{"type":"point","size":32,"strokeWidth":1,"opacity":1},"encoding":{
   "fill":{"field":"pozo","type":"nominal","scale":{"domain":["POZO 1","POZO 2","POZO 3","POZO 4","POZO 5","POZO 6"],"range":["#FF0000","#3333CC","transparent","#3C8A3C","transparent","#800000"]},"legend":{"orient":"none","legendX":224,"legendY":510,"title":null,"symbolSize":32,"symbolStrokeWidth":1,"clipHeight":11,"rowPadding":3,"padding":4,"labelExpr":"''","symbolOffset":4,"labelFontSize":9}},
   "stroke":{"field":"pozo","type":"nominal","scale":{"domain":["POZO 1","POZO 2","POZO 3","POZO 4","POZO 5","POZO 6"],"range":["#FF0000","#3333CC","#000000","#3C8A3C","#00DDDD","#800000"]},"legend":{"orient":"none","legendX":224,"legendY":510,"title":null,"symbolSize":32,"symbolStrokeWidth":1,"clipHeight":11,"rowPadding":3,"padding":4,"labelExpr":"''","symbolOffset":4,"labelFontSize":9}},
   "shape":{"field":"pozo","type":"nominal","scale":{"domain":["POZO 1","POZO 2","POZO 3","POZO 4","POZO 5","POZO 6"],"range":["triangle-up","diamond","M-1,-1L1,1M1,-1L-1,1M-0.7,-1H0.7M-0.7,1H0.7","circle","M-1,-1L1,1M1,-1L-1,1M0,-1V1","circle"]},"legend":{"orient":"none","legendX":224,"legendY":510,"title":null,"symbolSize":32,"symbolStrokeWidth":1,"clipHeight":11,"rowPadding":3,"padding":4,"labelExpr":"''","symbolOffset":4,"labelFontSize":9}}
  }}
 ]
}],
"resolve":{"scale":{"color":"independent","fill":"independent","stroke":"independent","shape":"independent","x":"independent","y":"independent"},"legend":{"color":"independent","fill":"independent","stroke":"independent","shape":"independent"}}
},
{"spacing":0,"vconcat":[
{"width":10,"height":13,"data":{"values":[]},"mark":"point","view":{"stroke":null,"fill":"white"}},
{
 "width":324,"height":660,
 "data":{"name":"oxy"},
 "encoding":{
  "y":{"field":"prof","type":"quantitative","scale":{"domain":[0,50],"reverse":true,"nice":false,"zero":false},"axis":{"values":[0,5,10,15,20,25,30,35,40,45,50],"grid":true,"title":"Profundidad (m)","titleFontSize":11.5,"titlePadding":8}},
  "x":{"field":"valor","type":"quantitative","scale":{"domain":[0,5.5],"nice":false,"zero":false},"axis":{"values":[0,1,2,3,4,5],"format":"d","grid":false,"title":"Oxígeno Disuelto (mg/l)","labelPadding":15,"titlePadding":3}},
  "order":{"field":"prof","type":"quantitative"}
 },
 "layer":[
  {"mark":{"type":"line","strokeWidth":1.5,"interpolate":"catmull-rom"},"encoding":{"color":{"field":"pozo","type":"nominal","scale":{"range":["#0000FF","#00CCFF","#FF00FF","#FF8080","#00FFFF","#800000"]},"legend":{"orient":"none","legendX":253,"legendY":522,"title":null,"symbolType":"stroke","symbolSize":256,"symbolStrokeWidth":2,"clipHeight":12,"rowPadding":11,"padding":5,"symbolOffset":4,"labelOffset":6,"labelFontSize":9.5,"strokeColor":"#000","fillColor":"#fff","labelExpr":"datum.label == 'POZO 1' ? 'POZO1' : datum.label"}}}},
  {"transform":[{"filter":{"field":"pozo","oneOf":["POZO 4"]}}],"mark":{"type":"line","strokeWidth":2.5,"interpolate":"catmull-rom"},"encoding":{"color":{"field":"pozo","type":"nominal"}}},
  {"transform":[{"filter":{"field":"pozo","oneOf":["POZO 1","POZO 3"]}}],"mark":{"type":"line","strokeWidth":3,"interpolate":"catmull-rom"},"encoding":{"color":{"field":"pozo","type":"nominal"}}},
  {"mark":{"type":"point","size":46,"strokeWidth":1,"opacity":1},"encoding":{
   "fill":{"field":"pozo","type":"nominal","scale":{"domain":["POZO 1","POZO 2","POZO 3","POZO 4","POZO 5","POZO 6"],"range":["#FF0000","#3333CC","transparent","#2E8B2E","transparent","#800000"]},"legend":{"orient":"none","legendX":253,"legendY":522,"title":null,"symbolSize":46,"symbolStrokeWidth":1,"clipHeight":12,"rowPadding":11,"padding":5,"labelExpr":"''","symbolOffset":7.5,"labelFontSize":9.5}},
   "stroke":{"field":"pozo","type":"nominal","scale":{"domain":["POZO 1","POZO 2","POZO 3","POZO 4","POZO 5","POZO 6"],"range":["#FF0000","#3333CC","#000000","#2E8B2E","#00CCCC","#800000"]},"legend":{"orient":"none","legendX":253,"legendY":522,"title":null,"symbolSize":46,"symbolStrokeWidth":1,"clipHeight":12,"rowPadding":11,"padding":5,"labelExpr":"''","symbolOffset":7.5,"labelFontSize":9.5}},
   "shape":{"field":"pozo","type":"nominal","scale":{"domain":["POZO 1","POZO 2","POZO 3","POZO 4","POZO 5","POZO 6"],"range":["triangle-up","diamond","M-1,-1L1,1M1,-1L-1,1M-0.7,-1H0.7M-0.7,1H0.7","circle","M-1,-1L1,1M1,-1L-1,1M0,-1V1","circle"]},"legend":{"orient":"none","legendX":253,"legendY":522,"title":null,"symbolSize":46,"symbolStrokeWidth":1,"clipHeight":12,"rowPadding":11,"padding":5,"labelExpr":"''","symbolOffset":7.5,"labelFontSize":9.5}}
  }}
 ]
}],
"resolve":{"scale":{"color":"independent","fill":"independent","stroke":"independent","shape":"independent","x":"independent","y":"independent"},"legend":{"color":"independent","fill":"independent","stroke":"independent","shape":"independent"}}
}
],
"resolve":{"scale":{"color":"independent","fill":"independent","stroke":"independent","shape":"independent","x":"independent","y":"independent"},"legend":{"color":"independent","fill":"independent","stroke":"independent","shape":"independent"}}
}
